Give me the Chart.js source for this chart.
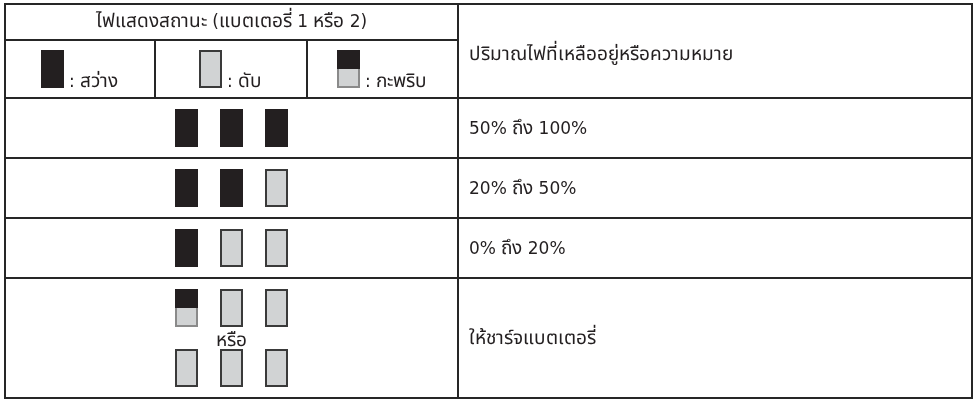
<!DOCTYPE html>
<html>
<head>
<meta charset="utf-8">
<script src="https://cdn.jsdelivr.net/npm/chart.js@4/dist/chart.umd.min.js"></script>
<style>
    @font-face {
        font-family: 'ThaiWide';
        src: local('Noto Sans Thai'), local('Noto Sans Thai Regular'), local('NotoSansThai-Regular'),
             local('Noto Sans Thai UI'), local('Loma'), local('Garuda'), local('Norasi');
        unicode-range: U+0E00-0E7F;
        size-adjust: 112%;
    }
    html, body { margin: 0; padding: 0; background: #fff; }
    #wrap { width: 977px; height: 400px; }
</style>
</head>
<body>
<div id="wrap"><canvas id="lampChart"></canvas></div>
<script>
const titleText = 'ไฟแสดงสถานะ (แบตเตอรี่ 1 หรือ 2)';
const meaningHeader = 'ปริมาณไฟที่เหลืออยู่หรือความหมาย';
const legendStates = ['on', 'off', 'blink'];
const legendLabels = [': สว่าง', ': ดับ', ': กะพริบ'];
const rowLabels = ['50% ถึง 100%', '20% ถึง 50%', '0% ถึง 20%', 'ให้ชาร์จแบตเตอรี่'];
const orText = 'หรือ';

// lamp slots (x) and lamp rows (y); rows 4 and 5 are the two options of the last table row
const lampSlots = [1, 2, 3];
const lampRows = [1, 2, 3, 4, 5];
const lampStates = [
    ['on', 'on', 'on'],
    ['on', 'on', 'off'],
    ['on', 'off', 'off'],
    ['blink', 'off', 'off'],
    ['off', 'off', 'off']
];
// which lamp row each text row sits beside
const rowCenters = [1, 2, 3, 4.5];

const font = '"DejaVu Sans", "ThaiWide", "Noto Sans Thai", sans-serif';
const ink = '#231f20';
const lineColor = '#262626';

const makeLamp = (state) => {
    const c = document.createElement('canvas');
    c.width = 23;
    c.height = 38;
    const g = c.getContext('2d');
    if (state === 'on') {
        g.fillStyle = ink;
        g.fillRect(0, 0, 23, 38);
    } else if (state === 'off') {
        g.fillStyle = '#3a3a3a';
        g.fillRect(0, 0, 23, 38);
        g.fillStyle = '#d1d3d4';
        g.fillRect(2, 2, 19, 34);
    } else {
        g.fillStyle = '#8a8a8a';
        g.fillRect(0, 0, 23, 38);
        g.fillStyle = '#d1d3d4';
        g.fillRect(2, 2, 19, 34);
        g.fillStyle = ink;
        g.fillRect(0, 0, 23, 19);
    }
    return c;
};

const lampImages = {};
legendStates.forEach(s => { lampImages[s] = makeLamp(s); });

const pointsFor = (state) => {
    const pts = [];
    lampStates.forEach((row, r) => {
        row.forEach((s, i) => {
            if (s === state) pts.push({ x: lampSlots[i], y: lampRows[r] });
        });
    });
    return pts;
};

// table layout in scale units
const grid = {
    titleBottom: -0.4667,
    legendRow: 0.0167,
    bodyLines: [0.5, 1.5, 2.5, 3.5],
    subCols: [0.3, 3.68],
    mainCol: 7.03
};

const tablePlugin = {
    id: 'tablePlugin',
    beforeDatasetsDraw(chart) {
        const { ctx, chartArea: a, scales: { x, y } } = chart;
        const px = v => Math.round(x.getPixelForValue(v));
        const py = v => Math.round(y.getPixelForValue(v));
        const colMain = px(grid.mainCol);
        const sub1 = px(grid.subCols[0]);
        const sub2 = px(grid.subCols[1]);
        const titleY = py(grid.titleBottom);
        const headBottom = py(grid.bodyLines[0]);
        const L = Math.round(a.left) + 1, R = Math.round(a.right), T = Math.round(a.top), B = Math.round(a.bottom);

        ctx.save();
        ctx.strokeStyle = lineColor;
        ctx.lineWidth = 2;
        ctx.beginPath();
        ctx.rect(L, T, R - L, B - T);
        ctx.moveTo(colMain, T);
        ctx.lineTo(colMain, B);
        ctx.moveTo(L, titleY);
        ctx.lineTo(colMain, titleY);
        ctx.moveTo(sub1, titleY);
        ctx.lineTo(sub1, headBottom);
        ctx.moveTo(sub2, titleY);
        ctx.lineTo(sub2, headBottom);
        grid.bodyLines.forEach(v => {
            ctx.moveTo(L, py(v));
            ctx.lineTo(R, py(v));
        });
        ctx.stroke();

        ctx.fillStyle = ink;
        ctx.font = '17px ' + font;
        ctx.textBaseline = 'middle';
        ctx.textAlign = 'center';
        ctx.fillText(titleText, (L + colMain) / 2, (T + titleY) / 2 + 1);

        ctx.textAlign = 'left';
        const textX = colMain + 11;
        ctx.fillText(meaningHeader, textX, (T + headBottom) / 2 + 5);
        rowLabels.forEach((t, i) => {
            ctx.fillText(t, textX, y.getPixelForValue(rowCenters[i]) + 2);
        });

        // legend cells
        const cells = [[L, sub1], [sub1, sub2], [sub2, colMain]];
        const legY = y.getPixelForValue(grid.legendRow);
        ctx.textBaseline = 'alphabetic';
        legendStates.forEach((s, i) => {
            const img = lampImages[s];
            const w = img.width + 5 + ctx.measureText(legendLabels[i]).width;
            const left = Math.round((cells[i][0] + cells[i][1]) / 2 - w / 2);
            const top = Math.round(legY - img.height / 2);
            ctx.drawImage(img, left, top);
            ctx.fillText(legendLabels[i], left + img.width + 5, top + img.height - 1);
        });

        ctx.textAlign = 'center';
        ctx.textBaseline = 'middle';
        ctx.fillText(orText, x.getPixelForValue(lampSlots[1]), y.getPixelForValue(4.5) + 4);
        ctx.restore();
    }
};

const ctx = document.getElementById('lampChart').getContext('2d');
const lampChart = new Chart(ctx, {
    type: 'scatter',
    data: {
        datasets: legendStates.map(s => ({
            label: s,
            data: pointsFor(s),
            pointStyle: lampImages[s],
            pointRadius: 10,
            pointHoverRadius: 10
        }))
    },
    options: {
        responsive: true,
        maintainAspectRatio: false,
        animation: false,
        events: [],
        layout: { autoPadding: false, padding: { left: 4, right: 5, top: 4, bottom: 2 } },
        plugins: {
            legend: { display: false },
            tooltip: { enabled: false }
        },
        scales: {
            x: { type: 'linear', display: false, min: -3.0556, max: 18.4556 },
            y: { type: 'linear', display: false, reverse: true, min: -1.0667, max: 5.5 }
        }
    },
    plugins: [tablePlugin]
});

// redraw once the widened Thai face is ready
document.fonts.load('17px ThaiWide', 'ไฟ').then(() => lampChart.draw());
</script>
</body>
</html>
